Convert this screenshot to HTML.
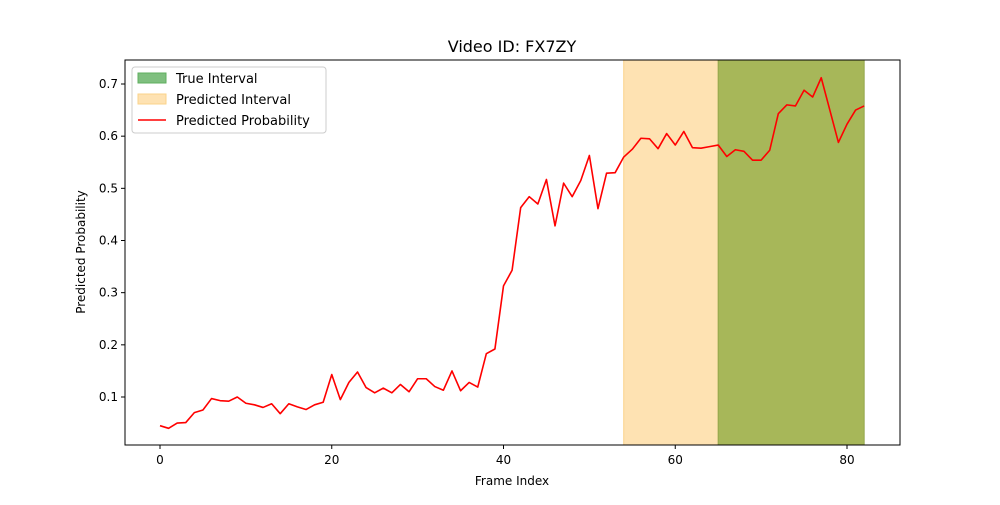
<!DOCTYPE html>
<html><head><meta charset="utf-8"><style>
body{margin:0;background:#fff;font-family:"Liberation Sans","DejaVu Sans",sans-serif;}
svg text{font-family:"DejaVu Sans","Liberation Sans",sans-serif;}
</style></head><body>
<svg id="c" width="1000" height="500" xmlns="http://www.w3.org/2000/svg"></svg>
<script>
const probs=[0.045,0.040,0.050,0.051,0.070,0.075,0.097,0.093,0.092,0.100,0.088,0.085,0.080,0.087,0.068,0.087,0.081,0.076,0.085,0.090,0.143,0.095,0.128,0.148,0.118,0.108,0.117,0.108,0.124,0.110,0.135,0.135,0.120,0.113,0.150,0.112,0.128,0.119,0.183,0.192,0.313,0.343,0.463,0.484,0.470,0.517,0.428,0.510,0.484,0.515,0.563,0.461,0.529,0.530,0.560,0.575,0.596,0.595,0.576,0.605,0.583,0.609,0.578,0.577,0.580,0.583,0.561,0.574,0.571,0.554,0.554,0.573,0.643,0.660,0.658,0.688,0.675,0.712,0.650,0.588,0.623,0.650,0.658];
const predInterval=[54,65];
const trueInterval=[65,82];
const xTicks=[0,20,40,60,80];
const yTicks=[0.1,0.2,0.3,0.4,0.5,0.6,0.7];
const L=125,R=900,T=60,B=445;
const X=v=>160+v*(847-160)/80;
const Y=v=>397-(v-0.1)*(313/0.6);
const svg=document.getElementById('c');
const NS='http://www.w3.org/2000/svg';
function mk(tag,attrs,parent){const e=document.createElementNS(NS,tag);for(const k in attrs)e.setAttribute(k,attrs[k]);(parent||svg).appendChild(e);return e;}
let t=mk('text',{x:512,y:52,'text-anchor':'middle','font-size':16,fill:'#000'});t.textContent='Video ID: FX7ZY';


let r=mk('rect',{x:X(predInterval[0]),y:T,width:X(predInterval[1])-X(predInterval[0]),height:B-T,fill:'#fee2b2',stroke:'#fbd38a','stroke-width':1});


r=mk('rect',{x:X(trueInterval[0]),y:T,width:X(trueInterval[1])-X(trueInterval[0]),height:B-T,fill:'#a7b759',stroke:'#94a64c','stroke-width':1});


let p=mk('polyline',{points:probs.map((v,i)=>X(i)+','+Y(v)).join(' '),fill:'none',stroke:'#ff0000','stroke-width':1.6,'stroke-linejoin':'round'});


r=mk('rect',{x:L,y:T,width:R-L,height:B-T,fill:'none',stroke:'#000','stroke-width':1});


xTicks.forEach(v=>{mk('line',{x1:X(v),x2:X(v),y1:B,y2:B+4,stroke:'#000'});
 const e=mk('text',{x:X(v),y:B+19,'text-anchor':'middle','font-size':12});e.textContent=v;
 
 });
yTicks.forEach(v=>{mk('line',{x1:L-4,x2:L,y1:Y(v),y2:Y(v),stroke:'#000'});
 const e=mk('text',{x:L-7,y:Y(v)+4,'text-anchor':'end','font-size':12});e.textContent=v.toFixed(1);
 
 });
t=mk('text',{x:512,y:485,'text-anchor':'middle','font-size':12});t.textContent='Frame Index';


t=mk('text',{x:0,y:0,'text-anchor':'middle','font-size':12,transform:'translate(85,252) rotate(-90)'});t.textContent='Predicted Probability';


const g=mk('g',{});


mk('rect',{x:132,y:67,width:194,height:66,rx:3,fill:'#fff','fill-opacity':0.8,stroke:'#ccc'},g);
mk('rect',{x:138,y:73,width:28,height:10,fill:'#7fbf7f',stroke:'#5faf5f'},g);
mk('rect',{x:138,y:94,width:28,height:10,fill:'#fee2b2',stroke:'#fbd38a'},g);
mk('line',{x1:138,x2:166,y1:120,y2:120,stroke:'#ff0000','stroke-width':1.6},g);
[['True Interval',83],['Predicted Interval',104],['Predicted Probability',125]].forEach(([s,y])=>{const e=mk('text',{x:176,y:y,'font-size':13},g);e.textContent=s;
 
 });
</script>
</body></html>
